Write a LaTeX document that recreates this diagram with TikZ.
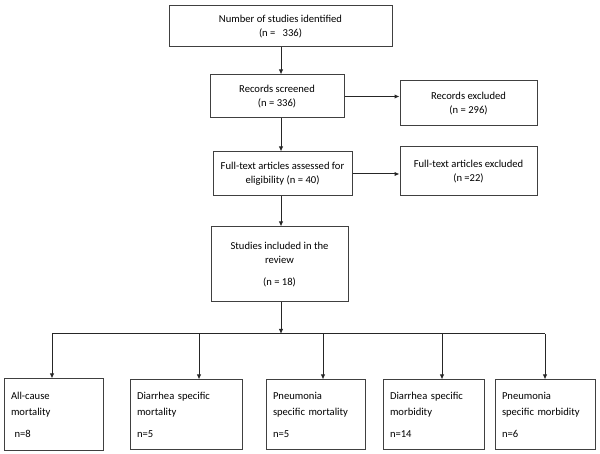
\documentclass[tikz,border=0pt]{standalone}
\usepackage{fontspec}
\setmainfont{Carlito}
\usetikzlibrary{arrows.meta}
\tikzset{
  box/.style={draw=black!75, line width=1pt, align=center, inner sep=2pt,
    font=\fontsize{10.6}{14}\selectfont},
  leaf/.style={draw=black!75, line width=1pt, align=left, inner xsep=7pt,
    font=\fontsize{10.6}{16}\selectfont},
  arr/.style={-{Latex[length=5pt,width=4.5pt]}, line width=1pt, draw=black!85}
}
\begin{document}
\begin{tikzpicture}[x=1pt,y=-1pt]
  \useasboundingbox (0,0) rectangle (600,454);
  % main column
  \node[box, minimum width=223, minimum height=41] (ident) at (280.5,26.5)
    {Number of studies identified\\(n = \ \ 336)};
  \node[box, minimum width=134, minimum height=43] (screen) at (277,96.5)
    {Records screened\\(n = 336)};
  \node[box, minimum width=137, minimum height=45] (recexc) at (468.5,103.5)
    {Records excluded\\(n = 296)};
  \node[box, minimum width=139, minimum height=44] (full) at (282.5,174)
    {Full-text articles assessed for\\eligibility (n = 40)};
  \node[box, minimum width=137, minimum height=49] (fullexc) at (468.5,171.5)
    {Full-text articles excluded\\(n =22)};
  \node[box, minimum width=137, minimum height=75] (incl) at (279.5,264.5)
    {Studies included in the\\review\\[8pt](n = 18)};
  % outcome boxes
  \node[leaf, minimum width=99, minimum height=71, text width=85] (allc) at (53.5,414.5)
    {All-cause\\mortality\\[6pt]\ n=8};
  \node[leaf, minimum width=112, minimum height=69, text width=98] (diamort) at (186,414.5)
    {Diarrhea specific\\mortality\\[6pt]n=5};
  \node[leaf, minimum width=99, minimum height=69, text width=85] (pnemort) at (315.5,414.5)
    {Pneumonia\\specific mortality\\[6pt]n=5};
  \node[leaf, minimum width=101, minimum height=69, text width=87] (diamorb) at (433.5,414.5)
    {Diarrhea specific\\morbidity\\[6pt]n=14};
  \node[leaf, minimum width=100, minimum height=69, text width=86] (pnemorb) at (545,414.5)
    {Pneumonia\\specific morbidity\\[6pt]n=6};
  % connectors
  \coordinate (top) at (281,334);
  \coordinate (j1) at (52,334);
  \coordinate (j2) at (199,334);
  \coordinate (j3) at (323,334);
  \coordinate (j4) at (442,334);
  \coordinate (j5) at (545,334);
  \draw[arr] (ident.south -| top) -- (screen.north -| top);
  \draw[arr] (screen.east) -- (screen.east -| recexc.west);
  \draw[arr] (screen.south -| top) -- (full.north -| top);
  \draw[arr] (full.east) -- (full.east -| fullexc.west);
  \draw[arr] (full.south -| top) -- (incl.north -| top);
  \draw[arr] (incl.south -| top) -- (top);
  \draw[line width=1pt, draw=black!85] (j1) -- (j5);
  \draw[arr] (j1) -- (j1 |- allc.north);
  \draw[arr] (j2) -- (j2 |- diamort.north);
  \draw[arr] (j3) -- (j3 |- pnemort.north);
  \draw[arr] (j4) -- (j4 |- diamorb.north);
  \draw[arr] (j5) -- (j5 |- pnemorb.north);
\end{tikzpicture}
\end{document}
